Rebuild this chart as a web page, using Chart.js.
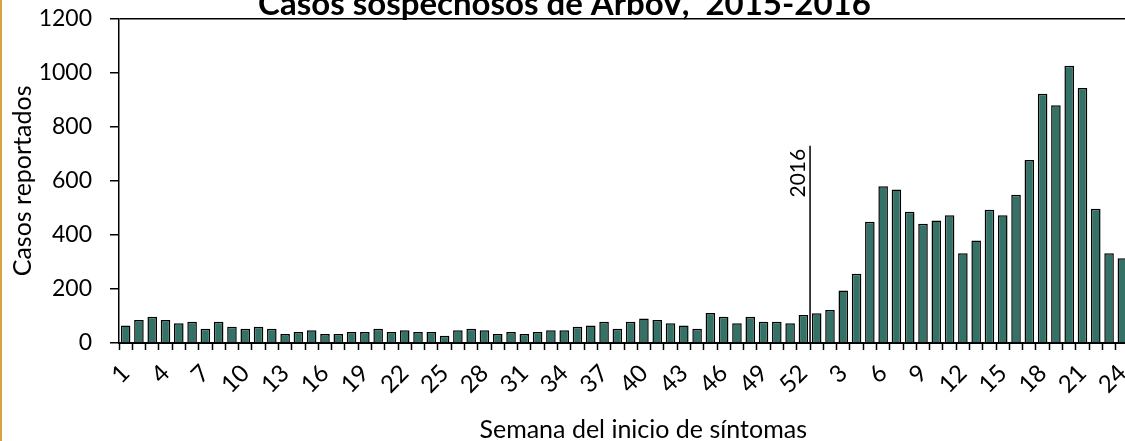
<!DOCTYPE html>
<html>
<head>
<meta charset="utf-8">
<script src="https://cdn.jsdelivr.net/npm/chart.js@4"></script>
<style>
  html, body { margin: 0; padding: 0; background: #fff; overflow: hidden; }
  #wrap { position: relative; width: 1125px; height: 441px; overflow: hidden; }
  #edge { position: absolute; left: 0; top: 0; width: 2px; height: 441px; background: #d6a43c; z-index: 2; }
  /* canvas is a bit larger than the page so the title and last bar get cut like the original */
  canvas { position: absolute; left: 0; top: -13px; }
</style>
</head>
<body>
<div id="wrap">
  <div id="edge"></div>
  <canvas id="chart" width="1152" height="454"></canvas>
</div>
<script>
// week labels, 2015 then 2016
const weeks2015 = ['1','2','3','4','5','6','7','8','9','10','11','12','13','14','15','16','17','18','19','20',
  '21','22','23','24','25','26','27','28','29','30','31','32','33','34','35','36','37','38','39','40',
  '41','42','43','44','45','46','47','48','49','50','51','52'];
const weeks2016 = ['1','2','3','4','5','6','7','8','9','10','11','12','13','14','15','16','17','18','19','20',
  '21','22','23','24'];

// reported cases per week
const cases2015 = [65, 85, 97, 85, 73, 79, 53, 79, 60, 53, 60, 53, 33, 41, 47, 33, 33, 41, 41, 53,
  41, 47, 41, 41, 27, 47, 53, 47, 33, 41, 33, 41, 47, 47, 60, 65, 79, 53, 79, 91,
  85, 73, 65, 53, 111, 97, 73, 97, 79, 79, 73, 104];
const cases2016 = [110, 122, 194, 256, 449, 580, 568, 486, 441, 453, 473, 332, 379, 493, 473, 549, 677, 923, 880, 1026,
  944, 497, 332, 314];

const yTicks = [0, 200, 400, 600, 800, 1000, 1200];
const yearMark = { label: '2016', afterIndex: 51, top: 730 };

const labels = weeks2015.concat(weeks2016);
const values = cases2015.concat(cases2016);

Chart.defaults.font.family = 'Lato, "Noto Sans", sans-serif';
Chart.defaults.color = '#000';

// vertical line + rotated year text between week 52 and week 1
const yearLine = {
    id: 'yearLine',
    afterDatasetsDraw(chart) {
        const x = chart.scales.x;
        const y = chart.scales.y;
        const xm = (x.getPixelForValue(yearMark.afterIndex) + x.getPixelForValue(yearMark.afterIndex + 1)) / 2;
        const yTop = y.getPixelForValue(yearMark.top);
        const ctx = chart.ctx;
        ctx.save();
        ctx.strokeStyle = '#000';
        ctx.lineWidth = 1.5;
        ctx.beginPath();
        ctx.moveTo(xm, yTop);
        ctx.lineTo(xm, y.getPixelForValue(0));
        ctx.stroke();
        ctx.translate(xm - 1, yTop + 3);
        ctx.rotate(-Math.PI / 2);
        ctx.font = '21px Lato, "Noto Sans", sans-serif';
        ctx.fillStyle = '#000';
        ctx.textAlign = 'right';
        ctx.textBaseline = 'bottom';
        ctx.fillText(yearMark.label, 0, 0);
        ctx.restore();
    }
};

new Chart(document.getElementById('chart'), {
    type: 'bar',
    data: {
        labels: labels,
        datasets: [{
            data: values,
            backgroundColor: '#347268',
            borderColor: '#000',
            borderWidth: 1.5,
            barPercentage: 0.72,
            categoryPercentage: 1
        }]
    },
    options: {
        responsive: false,
        animation: false,
        layout: { padding: { left: 0, right: 23, top: 0, bottom: 0 } },
        plugins: {
            legend: { display: false },
            tooltip: { enabled: false },
            title: {
                display: true,
                text: 'Casos sospechosos de ArboV,  2015-2016',
                color: '#000',
                font: { size: 33, weight: 'bold', lineHeight: 0.6 },
                padding: { top: 0, bottom: 5 }
            }
        },
        scales: {
            x: {
                afterFit: (scale) => { scale.height = 98; },
                grid: { drawOnChartArea: false, tickLength: 7, tickColor: '#000', tickWidth: 1.5 },
                border: { color: '#000', width: 2 },
                ticks: {
                    autoSkip: false,
                    maxRotation: 45,
                    minRotation: 45,
                    padding: 9,
                    font: { size: 24 },
                    callback: (v, i) => (i % 3 === 0 ? labels[i] : '')
                },
                title: {
                    display: true,
                    text: '      Semana del inicio de síntomas',
                    font: { size: 25, lineHeight: 0.9 },
                    padding: { top: 0, bottom: 0 }
                }
            },
            y: {
                min: 0,
                max: 1200,
                afterFit: (scale) => { scale.width = 119; },
                afterBuildTicks: (scale) => { scale.ticks = yTicks.map(v => ({ value: v })); },
                grid: {
                    color: (c) => (c.tick && c.tick.value === 1200 ? '#000' : 'rgba(0,0,0,0)'),
                    lineWidth: 1.5,
                    tickLength: 9,
                    tickColor: '#000',
                    tickWidth: 1.5
                },
                border: { color: '#000', width: 1.5 },
                ticks: { padding: 18, font: { size: 23 }, callback: (v) => String(v) },
                title: {
                    display: true,
                    text: 'Casos reportados',
                    font: { size: 25 },
                    padding: { top: 8, bottom: 0 }
                }
            }
        }
    },
    plugins: [yearLine]
});
</script>
</body>
</html>
